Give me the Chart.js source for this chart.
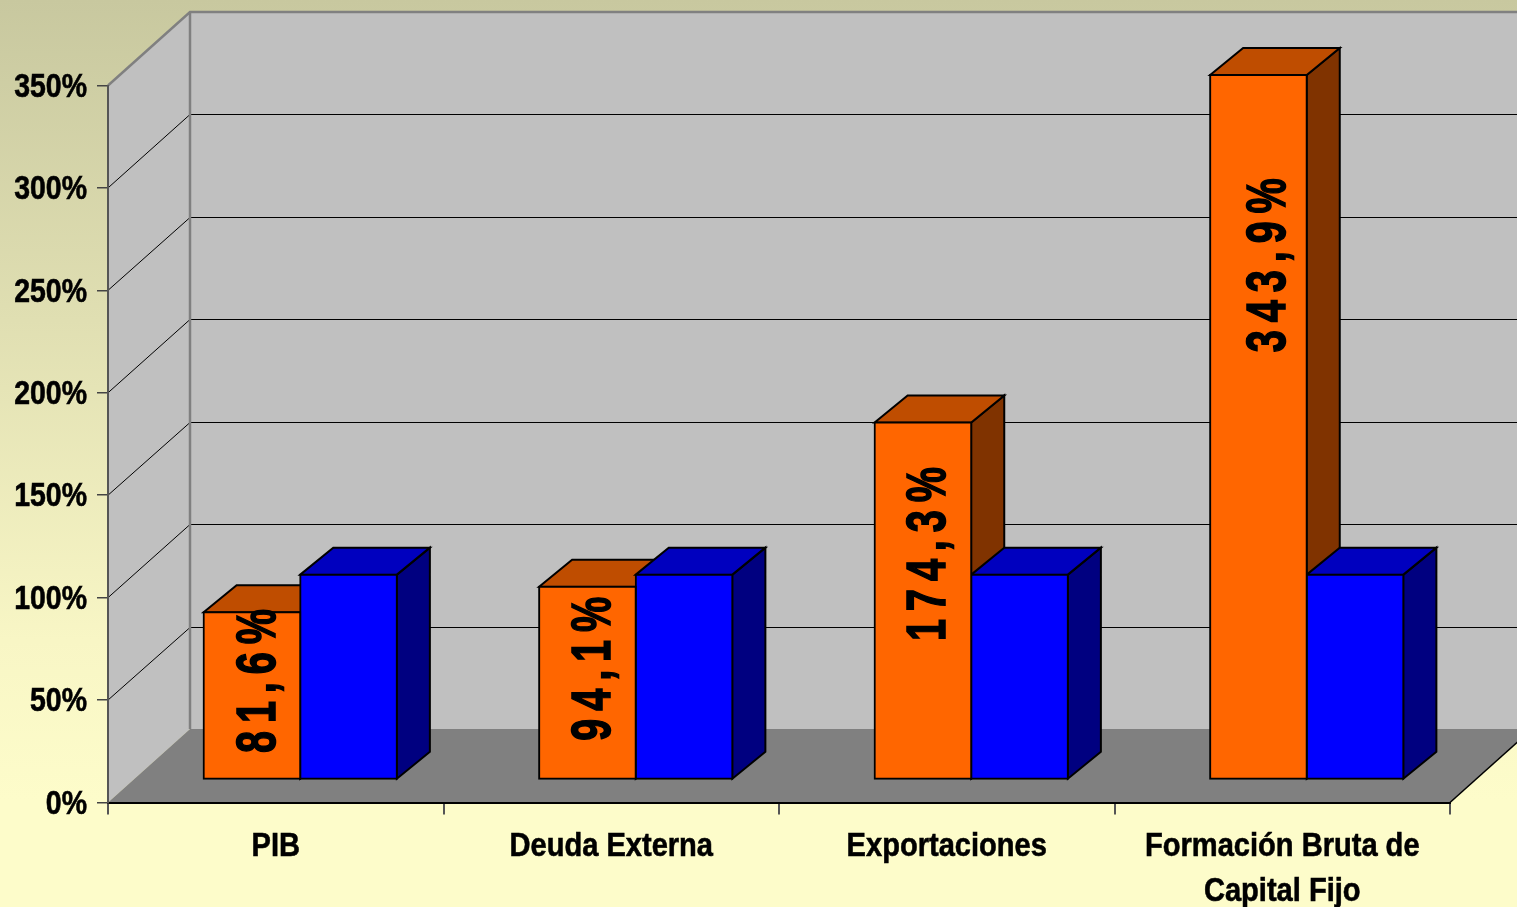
<!DOCTYPE html>
<html><head><meta charset="utf-8">
<style>
html,body{margin:0;padding:0;width:1517px;height:907px;overflow:hidden;
background:linear-gradient(180deg,#c8c89f 0,#f8f6c5 640px,#fdfcca 800px,#fdfcca 907px);}
canvas{display:block}
</style>
<script src="https://cdn.jsdelivr.net/npm/chart.js@4/dist/chart.umd.min.js"></script>
</head><body>
<canvas id="c" width="1517" height="907"></canvas>
<script>
const categories=['PIB','Deuda Externa','Exportaciones',['Formación Bruta de','Capital Fijo']];
const orangeValues=[81.6,94.1,174.3,343.9];
const blueValues=[100,100,100,100];
const orangeLabels=['81,6%','94,1%','174,3%','343,9%'];
const labelCentres=[50,56,112,253]; // axis value at which each rotated label is centred
const labelNudges=[8,7,7,11.5];

const wallDepth={x:82,y:-73.5}, barShift={x:24.5,y:-23}, barDepth={x:33,y:-27};
const shades=[{top:'#BF4D00',side:'#803300'},{top:'#0000BF',side:'#000080'}];

function poly(ctx,pts,fill,stroke,lw){
  ctx.beginPath();pts.forEach((p,i)=>i?ctx.lineTo(p[0],p[1]):ctx.moveTo(p[0],p[1]));ctx.closePath();
  if(fill){ctx.fillStyle=fill;ctx.fill();}
  if(stroke){ctx.strokeStyle=stroke;ctx.lineWidth=lw;ctx.stroke();}
}
// The reference's axis text is horizontally condensed: narrow each tick label about its own anchor.
function condense(scale,factor,dy){
  if(scale._condensed)return;
  scale._condensed=true;
  const orig=scale.drawLabels;
  scale.drawLabels=function(area){
    const c=scale.ctx, ft=c.fillText;
    c.fillText=function(t,x,y){
      c.save();c.scale(factor,1);ft.call(c,t,x,y+dy);
      c.strokeStyle='#000';c.lineWidth=.6;c.strokeText(t,x,y+dy);c.restore();
    };
    orig.call(scale,area);
    delete c.fillText;
  };
}
const box3d={
  id:'box3d',
  beforeDraw(chart){
    const {ctx,chartArea:a,scales:{y}}=chart, d=wallDepth;
    ctx.save();
    poly(ctx,[[a.left+d.x,a.top+d.y],[a.right+d.x,a.top+d.y],[a.right+d.x,a.bottom+d.y],[a.left+d.x,a.bottom+d.y]],'#C0C0C0');
    poly(ctx,[[a.left,a.top],[a.left+d.x,a.top+d.y],[a.left+d.x,a.bottom+d.y],[a.left,a.bottom]],'#C0C0C0');
    poly(ctx,[[a.left,a.bottom],[a.left+d.x,a.bottom+d.y],[a.right+d.x,a.bottom+d.y],[a.right,a.bottom]],'#808080');
    ctx.lineWidth=1;ctx.strokeStyle='#000';
    y.ticks.forEach(t=>{
      if(t.value===0||t.value===350)return;
      const py=y.getPixelForValue(t.value), back=Math.round(py+d.y)+.5;
      ctx.beginPath();ctx.moveTo(a.left,py);ctx.lineTo(a.left+d.x,back);ctx.lineTo(a.right+d.x,back);ctx.stroke();
    });
    ctx.strokeStyle='#808080';ctx.lineWidth=2.5;
    ctx.beginPath();ctx.moveTo(a.left,a.top);ctx.lineTo(a.left+d.x,a.top+d.y);ctx.lineTo(a.right+d.x,a.top+d.y);
    ctx.moveTo(a.left+d.x,a.top+d.y);ctx.lineTo(a.left+d.x,a.bottom+d.y);ctx.stroke();
    ctx.strokeStyle='#000';ctx.lineWidth=1.5;
    ctx.beginPath();ctx.moveTo(a.right,a.bottom);ctx.lineTo(a.right+d.x,a.bottom+d.y);ctx.stroke();
    ctx.restore();
  },
  beforeDatasetsDraw(chart){
    const {ctx}=chart, s=barShift, b=barDepth;
    ctx.save();
    categories.forEach((_,i)=>{
      [0,1].forEach(ds=>{
        const el=chart.getDatasetMeta(ds).data[i];
        const l=el.x-el.width/2+s.x, r=el.x+el.width/2+s.x, t=el.y+s.y, bt=el.base+s.y;
        poly(ctx,[[r,t],[r+b.x,t+b.y],[r+b.x,bt+b.y],[r,bt]],shades[ds].side,'#000',2);
        poly(ctx,[[l,t],[l+b.x,t+b.y],[r+b.x,t+b.y],[r,t]],shades[ds].top,'#000',2);
      });
    });
    ctx.restore();
    ctx.save();
    ctx.translate(s.x,s.y);
  },
  afterDatasetsDraw(chart){
    const {ctx,scales:{y}}=chart;
    ctx.restore();
    ctx.save();
    ctx.fillStyle='#000';ctx.strokeStyle='#000';ctx.lineWidth=1.6;
    ctx.textAlign='center';ctx.textBaseline='middle';
    ctx.font='bold 55px "Liberation Sans", Arial, sans-serif';
    ctx.letterSpacing='11px';
    chart.getDatasetMeta(0).data.forEach((el,i)=>{
      ctx.save();
      ctx.translate(el.x+barShift.x+labelNudges[i], y.getPixelForValue(labelCentres[i])+barShift.y);
      ctx.rotate(-Math.PI/2);
      ctx.scale(.72,1);
      ctx.fillText(orangeLabels[i],0,0);
      ctx.strokeText(orangeLabels[i],0,0);
      ctx.restore();
    });
    ctx.restore();
  }
};
new Chart(document.getElementById('c'),{
  type:'bar',
  data:{labels:categories,datasets:[
    {label:'Orange',data:orangeValues,backgroundColor:'#FF6600',borderColor:'#000',borderWidth:2,borderSkipped:false,inflateAmount:1,clip:false,
     categoryPercentage:.576,barPercentage:1},
    {label:'Blue',data:blueValues,backgroundColor:'#0000FF',borderColor:'#000',borderWidth:2,borderSkipped:false,inflateAmount:1,clip:false,
     categoryPercentage:.576,barPercentage:1}
  ]},
  plugins:[box3d],
  options:{
    responsive:false,animation:false,devicePixelRatio:1,
    layout:{padding:{top:85.5,right:67,left:0,bottom:0}},
    plugins:{legend:{display:false},tooltip:{enabled:false},title:{display:false}},
    scales:{
      x:{
        afterFit(s){s.height=104.5;condense(s,.855,-1);},
        grid:{drawOnChartArea:false,color:'#555',tickLength:12,lineWidth:2},
        border:{color:'#000',width:2},
        ticks:{color:'#000',padding:11,maxRotation:0,autoSkip:false,
          font:{family:'"Liberation Sans",Arial',weight:'bold',size:34,lineHeight:1.32}}
      },
      y:{
        min:0,max:350,
        afterFit(s){s.width=108;condense(s,.85,2);},
        grid:{drawOnChartArea:false,color:'#444',tickLength:11,lineWidth:1.5},
        border:{color:'#555',width:2},
        ticks:{stepSize:50,color:'#000',padding:10,callback:v=>v+'%',
          font:{family:'"Liberation Sans",Arial',weight:'bold',size:33.5}}
      }
    }
  }
});
</script>
</body></html>
